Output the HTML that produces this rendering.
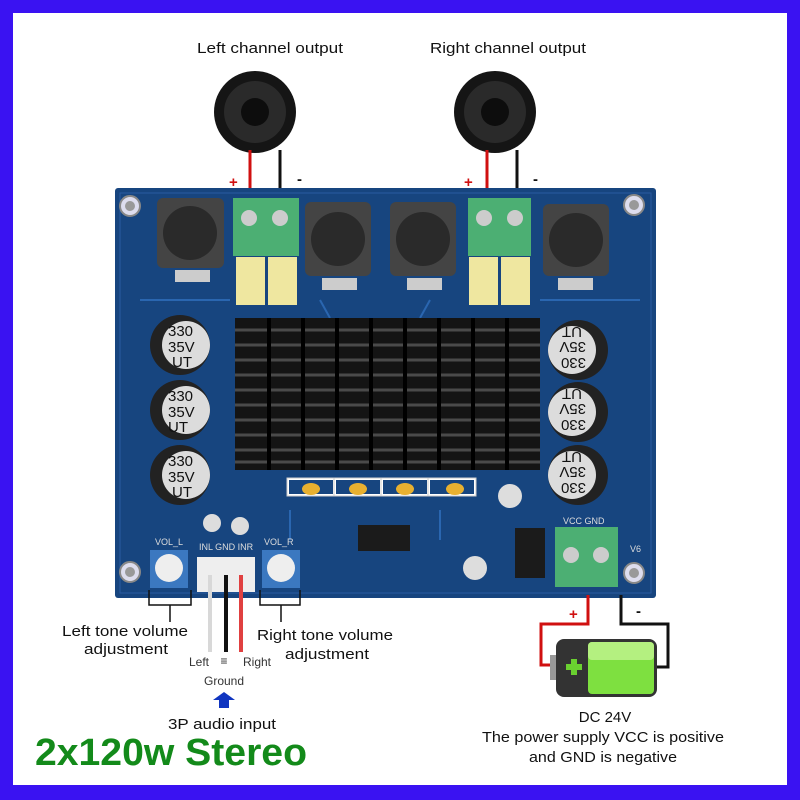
<!DOCTYPE html>
<html><head><style>
html,body{margin:0;padding:0;background:#fff}
svg{display:block}
text{font-family:"Liberation Sans",sans-serif}
</style></head><body>
<svg width="800" height="800" viewBox="0 0 800 800" xmlns="http://www.w3.org/2000/svg">
<rect width="800" height="800" fill="#3a12f2"/>
<rect x="13" y="13" width="774" height="772" fill="#fff"/>
<!-- top labels -->
<text x="270" y="53" font-size="15" text-anchor="middle" fill="#111" textLength="146" lengthAdjust="spacingAndGlyphs">Left channel output</text>
<text x="508" y="53" font-size="15" text-anchor="middle" fill="#111" textLength="156" lengthAdjust="spacingAndGlyphs">Right channel output</text>
<!-- speakers -->
<g>
<circle cx="255" cy="112" r="41" fill="#151515"/><circle cx="255" cy="112" r="31" fill="#2a2a2a"/><circle cx="255" cy="112" r="14" fill="#0d0d0d"/>
<circle cx="495" cy="112" r="41" fill="#151515"/><circle cx="495" cy="112" r="31" fill="#2a2a2a"/><circle cx="495" cy="112" r="14" fill="#0d0d0d"/>
</g>
<line x1="250" y1="150" x2="250" y2="200" stroke="#d01010" stroke-width="3"/>
<line x1="280" y1="150" x2="280" y2="200" stroke="#111" stroke-width="3"/>
<line x1="487" y1="150" x2="487" y2="200" stroke="#d01010" stroke-width="3"/>
<line x1="517" y1="150" x2="517" y2="200" stroke="#111" stroke-width="3"/>
<text x="229" y="187" font-size="15" font-weight="bold" fill="#d01010">+</text><text x="297" y="184" font-size="15" font-weight="bold" fill="#111">-</text>
<text x="464" y="187" font-size="15" font-weight="bold" fill="#d01010">+</text><text x="533" y="184" font-size="15" font-weight="bold" fill="#111">-</text>
<!-- board -->
<rect x="115" y="188" width="541" height="410" fill="#17457f" rx="3"/>
<rect x="120" y="193" width="531" height="400" fill="none" stroke="#2a5aa0" stroke-width="1"/>
<g stroke="#2a66b0" stroke-width="2" fill="none">
<path d="M140 300 H230 M540 300 H640 M290 510 V540 M440 510 V540 M320 300 L330 318 M430 300 L420 318"/>
</g>
<!-- mount holes -->
<g fill="#dde" stroke="#888" stroke-width="2">
<circle cx="130" cy="206" r="10"/><circle cx="634" cy="205" r="10"/><circle cx="130" cy="572" r="10"/><circle cx="634" cy="573" r="10"/>
</g>
<g fill="#999"><circle cx="130" cy="206" r="5"/><circle cx="634" cy="205" r="5"/><circle cx="130" cy="572" r="5"/><circle cx="634" cy="573" r="5"/></g>
<!-- inductors -->
<g fill="#444"><rect x="157" y="198" width="67" height="70" rx="6"/><rect x="305" y="202" width="66" height="74" rx="6"/><rect x="390" y="202" width="66" height="74" rx="6"/><rect x="543" y="204" width="66" height="72" rx="6"/></g>
<g fill="#2a2a2a"><circle cx="190" cy="233" r="27"/><circle cx="338" cy="239" r="27"/><circle cx="423" cy="239" r="27"/><circle cx="576" cy="240" r="27"/></g>
<g fill="#ccc"><rect x="175" y="270" width="35" height="12"/><rect x="322" y="278" width="35" height="12"/><rect x="407" y="278" width="35" height="12"/><rect x="558" y="278" width="35" height="12"/></g>
<!-- green terminals -->
<rect x="233" y="198" width="66" height="58" fill="#4caf73"/>
<rect x="468" y="198" width="63" height="58" fill="#4caf73"/>
<rect x="555" y="527" width="63" height="60" fill="#4caf73"/>
<g fill="#ccc"><circle cx="249" cy="218" r="8"/><circle cx="280" cy="218" r="8"/><circle cx="484" cy="218" r="8"/><circle cx="515" cy="218" r="8"/><circle cx="571" cy="555" r="8"/><circle cx="601" cy="555" r="8"/></g>
<!-- yellow caps -->
<g fill="#efe7a0"><rect x="236" y="257" width="29" height="48"/><rect x="268" y="257" width="29" height="48"/><rect x="469" y="257" width="29" height="48"/><rect x="501" y="257" width="29" height="48"/></g>
<!-- heatsink -->
<rect x="235" y="318" width="305" height="152" fill="#141414"/>
<g stroke="#4a4a4a" stroke-width="3">
<line x1="235" y1="330" x2="540" y2="330"/><line x1="235" y1="345" x2="540" y2="345"/><line x1="235" y1="360" x2="540" y2="360"/><line x1="235" y1="375" x2="540" y2="375"/><line x1="235" y1="390" x2="540" y2="390"/><line x1="235" y1="405" x2="540" y2="405"/><line x1="235" y1="420" x2="540" y2="420"/><line x1="235" y1="435" x2="540" y2="435"/><line x1="235" y1="450" x2="540" y2="450"/><line x1="235" y1="462" x2="540" y2="462"/>
</g>
<g stroke="#000" stroke-width="4">
<line x1="269" y1="318" x2="269" y2="470"/><line x1="303" y1="318" x2="303" y2="470"/><line x1="337" y1="318" x2="337" y2="470"/><line x1="371" y1="318" x2="371" y2="470"/><line x1="405" y1="318" x2="405" y2="470"/><line x1="439" y1="318" x2="439" y2="470"/><line x1="473" y1="318" x2="473" y2="470"/><line x1="507" y1="318" x2="507" y2="470"/>
</g>
<!-- electrolytic caps -->
<g fill="#222"><circle cx="180" cy="345" r="30"/><circle cx="180" cy="410" r="30"/><circle cx="180" cy="475" r="30"/><circle cx="578" cy="350" r="30"/><circle cx="578" cy="412" r="30"/><circle cx="578" cy="475" r="30"/></g>
<g fill="#dcdcdc"><circle cx="186" cy="345" r="24"/><circle cx="186" cy="410" r="24"/><circle cx="186" cy="475" r="24"/><circle cx="572" cy="350" r="24"/><circle cx="572" cy="412" r="24"/><circle cx="572" cy="475" r="24"/></g>
<g font-size="15" fill="#111">
<text x="168" y="336">330</text><text x="168" y="352">35V</text><text x="172" y="367">UT</text>
<text x="168" y="401">330</text><text x="168" y="417">35V</text><text x="168" y="432">UT</text>
<text x="168" y="466">330</text><text x="168" y="482">35V</text><text x="172" y="497">UT</text>
</g>
<g font-size="15" fill="#111">
<g transform="translate(572,350) rotate(180)"><text x="-14" y="-8">330</text><text x="-14" y="8">35V</text><text x="-10" y="23">UT</text></g>
<g transform="translate(572,412) rotate(180)"><text x="-14" y="-8">330</text><text x="-14" y="8">35V</text><text x="-10" y="23">UT</text></g>
<g transform="translate(572,475) rotate(180)"><text x="-14" y="-8">330</text><text x="-14" y="8">35V</text><text x="-10" y="23">UT</text></g>
</g>
<!-- small parts -->
<g fill="#fff" stroke="#ccc"><rect x="287" y="478" width="48" height="18"/><rect x="334" y="478" width="48" height="18"/><rect x="381" y="478" width="48" height="18"/><rect x="428" y="478" width="48" height="18"/></g>
<g fill="#17457f"><rect x="289" y="480" width="44" height="14"/><rect x="336" y="480" width="44" height="14"/><rect x="383" y="480" width="44" height="14"/><rect x="430" y="480" width="44" height="14"/></g>
<g fill="#e8b030"><ellipse cx="311" cy="489" rx="9" ry="6"/><ellipse cx="358" cy="489" rx="9" ry="6"/><ellipse cx="405" cy="489" rx="9" ry="6"/><ellipse cx="455" cy="489" rx="9" ry="6"/></g>
<rect x="358" y="525" width="52" height="26" fill="#1b1b1b"/>
<rect x="515" y="528" width="30" height="50" fill="#1b1b1b"/>
<g fill="#ddd"><circle cx="510" cy="496" r="12"/><circle cx="475" cy="568" r="12"/><circle cx="212" cy="523" r="9"/><circle cx="240" cy="526" r="9"/></g>
<!-- pots -->
<rect x="150" y="550" width="38" height="38" fill="#3b78c0"/><circle cx="169" cy="568" r="14" fill="#eee"/>
<rect x="262" y="550" width="38" height="38" fill="#3b78c0"/><circle cx="281" cy="568" r="14" fill="#eee"/>
<rect x="197" y="557" width="58" height="35" fill="#eee"/>
<g font-size="9" fill="#ddd"><text x="155" y="545">VOL_L</text><text x="199" y="550">INL GND INR</text><text x="264" y="545">VOL_R</text><text x="563" y="524">VCC GND</text><text x="630" y="552">V6</text></g>
<!-- audio wires -->
<line x1="210" y1="575" x2="210" y2="652" stroke="#d8d8d8" stroke-width="4"/>
<line x1="226" y1="575" x2="226" y2="652" stroke="#111" stroke-width="4"/>
<line x1="241" y1="575" x2="241" y2="652" stroke="#e04040" stroke-width="4"/>
<!-- brackets -->
<g stroke="#111" stroke-width="1.5" fill="none">
<path d="M149 590 V605 H191 V590 M170 605 V622"/>
<path d="M260 590 V605 H300 V590 M281 605 V622"/>
</g>
<g font-size="15" fill="#111">
<text x="125" y="636" text-anchor="middle" textLength="126" lengthAdjust="spacingAndGlyphs">Left tone volume</text>
<text x="126" y="654" text-anchor="middle" textLength="84" lengthAdjust="spacingAndGlyphs">adjustment</text>
<text x="325" y="640" text-anchor="middle" textLength="136" lengthAdjust="spacingAndGlyphs">Right tone volume</text>
<text x="327" y="659" text-anchor="middle" textLength="84" lengthAdjust="spacingAndGlyphs">adjustment</text>
<text x="222" y="729" text-anchor="middle" textLength="108" lengthAdjust="spacingAndGlyphs">3P audio input</text>
</g>
<g font-size="12" fill="#333">
<text x="199" y="666" text-anchor="middle">Left</text>
<text x="257" y="666" text-anchor="middle">Right</text>
<text x="224" y="685" text-anchor="middle">Ground</text>
<text x="224" y="665" text-anchor="middle">≡</text>
</g>
<path d="M213 700 L224 692 L235 700 L229 700 L229 708 L219 708 L219 700 Z" fill="#1035c0"/>
<text x="35" y="765" font-size="38" font-weight="bold" fill="#138a1a" textLength="272" lengthAdjust="spacingAndGlyphs">2x120w Stereo</text>
<!-- power wires -->
<path d="M588 595 V624 H541 V665 H556" stroke="#d01010" stroke-width="3" fill="none"/>
<path d="M621 595 V624 H668 V667 H655" stroke="#111" stroke-width="3" fill="none"/>
<text x="569" y="619" font-size="15" font-weight="bold" fill="#d01010">+</text><text x="636" y="616" font-size="15" font-weight="bold" fill="#111">-</text>
<!-- battery -->
<rect x="550" y="655" width="8" height="25" fill="#999"/>
<rect x="556" y="639" width="101" height="58" rx="8" fill="#333"/>
<rect x="588" y="642" width="66" height="52" rx="4" fill="#7ee040"/>
<rect x="588" y="642" width="66" height="18" rx="4" fill="#b4f080"/>
<path d="M566 667 H582 M574 659 V675" stroke="#6ad030" stroke-width="6"/>
<g font-size="15" fill="#111" text-anchor="middle">
<text x="605" y="722">DC 24V</text>
<text x="603" y="742" textLength="242" lengthAdjust="spacingAndGlyphs">The power supply VCC is positive</text>
<text x="603" y="762" textLength="148" lengthAdjust="spacingAndGlyphs">and GND is negative</text>
</g>
</svg>
</body></html>
